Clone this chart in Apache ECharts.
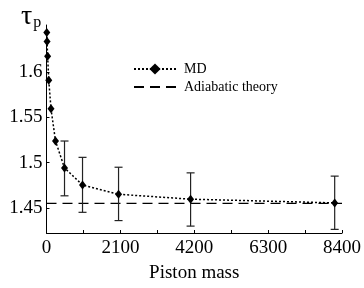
<!DOCTYPE html>
<html>
<head>
<meta charset="utf-8">
<script src="https://cdn.jsdelivr.net/npm/echarts@6/dist/echarts.min.js"></script>
<style>
  html, body { margin: 0; padding: 0; background: #fff; }
  #chart { width: 364px; height: 288px; }
</style>
</head>
<body>
<div id="chart"></div>
<script>
// piston mass values and MD relaxation time
const massX = [8, 16, 32, 64, 128, 256, 512, 1024, 2048, 4096, 8192]
const mdY = [1.6433, 1.6335, 1.6172, 1.5908, 1.5592, 1.5237, 1.494, 1.4752, 1.465, 1.4596, 1.4555]

// error bars (only visible on the heavier pistons)
const errX = [512, 1024, 2048, 4096, 8192]
const errLow = [1.4633, 1.4451, 1.436, 1.4299, 1.4263]
const errHigh = [1.5237, 1.5057, 1.4948, 1.4886, 1.485]

// adiabatic theory line
const theoryX = [0, 8400]
const theoryY = [1.455, 1.455]

const xTicks = [0, 1050, 2100, 3150, 4200, 5250, 6300, 7350, 8400]
const xLabels = [0, 2100, 4200, 6300, 8400]
const yLabels = [1.45, 1.5, 1.55, 1.6]

const serif = '"Liberation Serif", "DejaVu Serif", serif'

const chart = echarts.init(document.getElementById('chart'))

const option = {
  animation: false,
  grid: {
    left: 46.5,
    right: 21,
    top: 25,
    bottom: 52
  },
  title: {
    text: '{t|τ}{s|p}',
    left: 16,
    top: -2,
    textStyle: {
      rich: {
        t: {fontFamily: serif, fontSize: 28, fontWeight: 'normal', color: '#000'},
        s: {fontFamily: serif, fontSize: 16, fontWeight: 'normal', color: '#000', padding: [12, 0, 0, 1]}
      }
    }
  },
  legend: {
    orient: 'vertical',
    left: 128,
    top: 57,
    itemWidth: 42,
    itemHeight: 14,
    itemGap: 4,
    textStyle: {
      fontFamily: serif,
      fontSize: 14,
      color: '#000',
      padding: [0, 0, 0, 3]
    },
    data: [
      'MD',
      {name: 'Adiabatic theory', itemStyle: {opacity: 0}}
    ]
  },
  xAxis: {
    type: 'value',
    min: 0,
    max: 8400,
    name: 'Piston mass',
    nameLocation: 'middle',
    nameGap: 31,
    nameTextStyle: {fontFamily: serif, fontSize: 19, color: '#000'},
    axisLine: {lineStyle: {color: '#000', width: 1}},
    axisTick: {
      inside: true,
      length: 3,
      customValues: xTicks,
      lineStyle: {color: '#000'}
    },
    axisLabel: {
      customValues: xLabels,
      formatter: v => String(v),
      margin: 6,
      fontFamily: serif,
      fontSize: 19,
      color: '#000'
    },
    splitLine: {show: false}
  },
  yAxis: {
    type: 'value',
    min: 1.4223,
    max: 1.6516,
    axisLine: {show: true, lineStyle: {color: '#000', width: 1}},
    axisTick: {
      show: true,
      inside: true,
      length: 3,
      customValues: yLabels,
      lineStyle: {color: '#000'}
    },
    axisLabel: {
      customValues: yLabels,
      margin: 4,
      fontFamily: serif,
      fontSize: 19,
      color: '#000'
    },
    splitLine: {show: false}
  },
  series: [
    {
      name: 'Adiabatic theory',
      type: 'line',
      data: theoryX.map((x, i) => [x, theoryY[i]]),
      symbol: 'none',
      lineStyle: {color: '#000', width: 1.2, type: [10, 6]},
      itemStyle: {color: '#000'},
      z: 2
    },
    {
      name: 'errors',
      type: 'custom',
      data: errX.map((x, i) => [x, errLow[i], errHigh[i]]),
      renderItem: function (params, api) {
        const top = api.coord([api.value(0), api.value(2)])
        const bot = api.coord([api.value(0), api.value(1)])
        const w = 4
        const st = {stroke: '#222', lineWidth: 1.2}
        return {
          type: 'group',
          children: [
            {type: 'line', shape: {x1: top[0], y1: top[1], x2: bot[0], y2: bot[1]}, style: st},
            {type: 'line', shape: {x1: top[0] - w, y1: top[1], x2: top[0] + w, y2: top[1]}, style: st},
            {type: 'line', shape: {x1: bot[0] - w, y1: bot[1], x2: bot[0] + w, y2: bot[1]}, style: st}
          ]
        }
      },
      z: 3
    },
    {
      name: 'MD',
      type: 'line',
      data: massX.map((x, i) => [x, mdY[i]]),
      symbol: 'diamond',
      symbolSize: [7, 9],
      lineStyle: {color: '#000', width: 1.5, type: [2, 2]},
      itemStyle: {color: '#000'},
      z: 4
    }
  ]
}

chart.setOption(option)
</script>
</body>
</html>
